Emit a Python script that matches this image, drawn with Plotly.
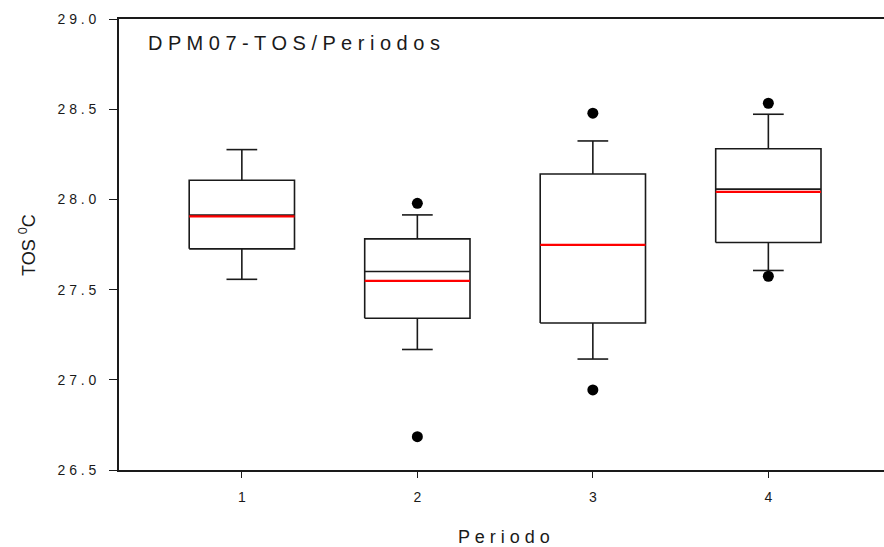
import plotly.graph_objects as go

# Summary statistics of TOS (°C) for each period
periods = [1, 2, 3, 4]
q1 = [27.726, 27.341, 27.315, 27.761]
median = [27.913, 27.600, 27.748, 28.057]
q3 = [28.106, 27.781, 28.141, 28.281]
mean = [27.906, 27.548, 27.748, 28.042]
whisker_low = [27.557, 27.168, 27.115, 27.606]
whisker_high = [28.276, 27.914, 28.324, 28.472]

# Points beyond the whiskers
outlier_period = [2, 2, 3, 3, 4, 4]
outlier_value = [27.978, 26.685, 28.478, 26.944, 28.533, 27.574]

y_ticks = [26.5, 27.0, 27.5, 28.0, 28.5, 29.0]

BOX_W = 0.6
CAP_W = 0.175
FONT = "Liberation Sans, Arial, sans-serif"
INK = "#1a1a1a"


def spaced(text):
    """Widen the tracking of a label by putting a space between glyphs."""
    return " ".join(text)


def segments(pairs):
    xs, ys = [], []
    for (x0, y0), (x1, y1) in pairs:
        xs += [x0, x1, None]
        ys += [y0, y1, None]
    return xs, ys


fig = go.Figure()

# box outlines
bx, by = [], []
for p, lo, hi in zip(periods, q1, q3):
    l, r = p - BOX_W / 2, p + BOX_W / 2
    bx += [l, r, r, l, l, None]
    by += [lo, lo, hi, hi, lo, None]
fig.add_trace(go.Scatter(x=bx, y=by, mode="lines", fill="toself",
                         fillcolor="white", line=dict(color=INK, width=1.6),
                         hoverinfo="skip"))

# whiskers and caps
pairs = []
for p, lo, hi, a, b in zip(periods, q1, q3, whisker_low, whisker_high):
    pairs.append(((p, hi), (p, b)))
    pairs.append(((p, lo), (p, a)))
    pairs.append(((p - CAP_W / 2, b), (p + CAP_W / 2, b)))
    pairs.append(((p - CAP_W / 2, a), (p + CAP_W / 2, a)))
wx, wy = segments(pairs)
fig.add_trace(go.Scatter(x=wx, y=wy, mode="lines",
                         line=dict(color=INK, width=1.6), hoverinfo="skip"))

# medians
mx, my = segments([((p - BOX_W / 2, m), (p + BOX_W / 2, m))
                   for p, m in zip(periods, median)])
fig.add_trace(go.Scatter(x=mx, y=my, mode="lines",
                         line=dict(color=INK, width=1.6), hoverinfo="skip"))

# means
ax_, ay_ = segments([((p - BOX_W / 2, m), (p + BOX_W / 2, m))
                     for p, m in zip(periods, mean)])
fig.add_trace(go.Scatter(x=ax_, y=ay_, mode="lines",
                         line=dict(color="#ff0000", width=2.3), hoverinfo="skip"))

# outliers
fig.add_trace(go.Scatter(x=outlier_period, y=outlier_value, mode="markers",
                         marker=dict(color="black", size=11, line=dict(width=0)),
                         hoverinfo="skip"))

fig.update_layout(
    width=884, height=547,
    margin=dict(l=119, r=0, t=19, b=77),
    paper_bgcolor="white", plot_bgcolor="white",
    showlegend=False,
    font=dict(family=FONT, size=14, color=INK),
    xaxis=dict(range=[0.3, 0.3 + 765 / 175.5], tickvals=periods,
               ticktext=[str(p) for p in periods],
               showgrid=False, zeroline=False,
               showline=True, mirror=True, linecolor=INK, linewidth=1.6,
               ticks="outside", ticklen=6, tickwidth=1.4, tickcolor=INK,
               ticklabelstandoff=7,
               tickfont=dict(family=FONT, size=14, color=INK)),
    yaxis=dict(range=[26.5, 29.0], tickvals=y_ticks,
               ticktext=[spaced(f"{v:.1f}") for v in y_ticks],
               showgrid=False, zeroline=False,
               showline=True, linecolor=INK, linewidth=1.6,
               ticks="outside", ticklen=8, tickwidth=1.4, tickcolor=INK,
               ticklabelstandoff=10,
               tickfont=dict(family=FONT, size=14, color=INK)),
    annotations=[
        dict(text=spaced("DPM07-TOS/Periodos"), xref="paper", yref="paper",
             x=(146 - 119) / 765, y=1 - (43 - 19) / 451,
             xanchor="left", yanchor="middle", showarrow=False,
             font=dict(family=FONT, size=20, color=INK)),
        dict(text=spaced("Periodo"), xref="paper", yref="paper",
             x=(504 - 119) / 765, y=-(537 - 470) / 451,
             xanchor="center", yanchor="middle", showarrow=False,
             font=dict(family=FONT, size=18, color=INK)),
        dict(text="TOS <sup>0</sup>C", xref="paper", yref="paper",
             x=-(119 - 27) / 765, y=1 - (245 - 19) / 451,
             xanchor="center", yanchor="middle", textangle=-90,
             showarrow=False,
             font=dict(family=FONT, size=18, color=INK)),
    ],
)

fig.write_html("out.html")
